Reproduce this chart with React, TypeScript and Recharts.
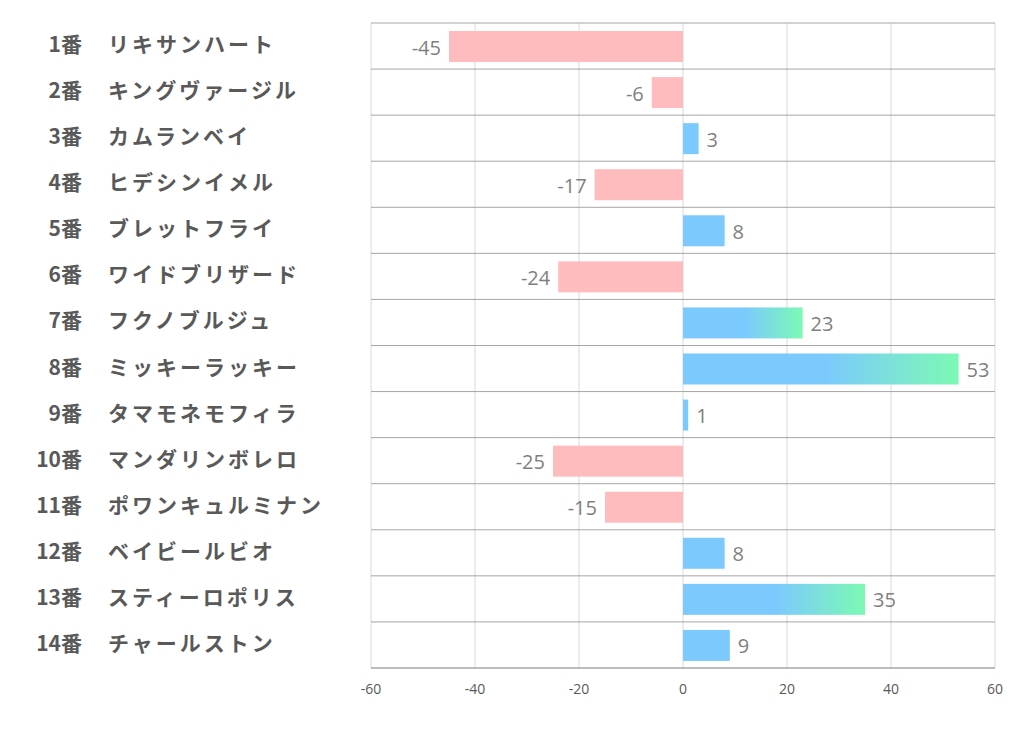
import {
  BarChart,
  Bar,
  XAxis,
  YAxis,
  CartesianGrid,
  LabelList,
} from "recharts";

const numbers = ["1番", "2番", "3番", "4番", "5番", "6番", "7番", "8番", "9番", "10番", "11番", "12番", "13番", "14番"];
const horses = [
  "リキサンハート",
  "キングヴァージル",
  "カムランベイ",
  "ヒデシンイメル",
  "ブレットフライ",
  "ワイドブリザード",
  "フクノブルジュ",
  "ミッキーラッキー",
  "タマモネモフィラ",
  "マンダリンボレロ",
  "ポワンキュルミナン",
  "ベイビールビオ",
  "スティーロポリス",
  "チャールストン",
];
const scores = [-45, -6, 3, -17, 8, -24, 23, 53, 1, -25, -15, 8, 35, 9];
const xTicks = [-60, -40, -20, 0, 20, 40, 60];

const data = scores.map((v, i) => ({ key: numbers[i], horse: horses[i], value: v }));

const BLUE = "#7ccafd";
const GREEN = "#7cf9b4";
const PINK = "#ffbcbf";

// Bar shape: pink for negatives, blue for positives, blue->green fade for strong ones
function BarShape(props: any) {
  const { x, y, width, height, value, index } = props;
  const v = Array.isArray(value) ? value[1] - value[0] : value;
  const left = Math.min(x, x + width);
  const w = Math.abs(width);
  if (v < 0) return <rect x={left} y={y} width={w} height={height} fill={PINK} />;
  if (v < 20) return <rect x={left} y={y} width={w} height={height} fill={BLUE} />;
  const fade = Math.min(w * 0.48, 186);
  const start = 1 - fade / w;
  const id = `fade-${index}`;
  return (
    <g>
      <defs>
        <linearGradient id={id} x1="0" y1="0" x2="1" y2="0">
          <stop offset={start} stopColor={BLUE} />
          <stop offset={1} stopColor={GREEN} />
        </linearGradient>
      </defs>
      <rect x={left} y={y} width={w} height={height} fill={`url(#${id})`} />
    </g>
  );
}

function ValueLabel(props: any) {
  const { x, y, width, height, value } = props;
  const end = x + width;
  const neg = value < 0;
  return (
    <text
      x={neg ? end - 8 : end + 8}
      y={y + height / 2 + 8}
      textAnchor={neg ? "end" : "start"}
      fill="#7f7f7f"
      fontSize={20}
      fontFamily="'Open Sans', sans-serif"
    >
      {value}
    </text>
  );
}

function HorseTick(props: any) {
  const { y, payload } = props;
  const i = numbers.indexOf(payload.value);
  return (
    <g fill="#595959" fontWeight="bold" fontFamily="'Noto Sans CJK JP', sans-serif" fontSize={21}>
      <text x={82} y={y + 6} textAnchor="end">
        {payload.value}
      </text>
      <text x={108} y={y + 6} letterSpacing={3}>
        {horses[i]}
      </text>
    </g>
  );
}

export default function App() {
  const rows = data.length;
  return (
    <div style={{ position: "absolute", left: 0, top: 0, background: "#fff" }}>
      <BarChart
        width={1022}
        height={730}
        data={data}
        layout="vertical"
        margin={{ top: 23, right: 27, bottom: 30, left: 0 }}
        barSize={31}
      >
        <CartesianGrid horizontal={false} stroke="#d9d9d9" />
        <CartesianGrid
          vertical={false}
          stroke="#a6a6a6"
          horizontalCoordinatesGenerator={({ offset }: any) =>
            Array.from({ length: rows + 1 }, (_, k) => offset.top + (k * offset.height) / rows)
          }
        />
        <XAxis
          type="number"
          domain={[-60, 60]}
          ticks={xTicks}
          axisLine={{ stroke: "#a6a6a6" }}
          tickLine={false}
          tick={{ fill: "#595959", fontSize: 14, fontFamily: "'Open Sans', sans-serif" }}
          tickMargin={10}
          height={32}
        />
        <YAxis
          type="category"
          dataKey="key"
          width={371}
          axisLine={false}
          tickLine={false}
          tick={<HorseTick />}
          interval={0}
        />
        <Bar dataKey="value" shape={<BarShape />} isAnimationActive={false}>
          <LabelList dataKey="value" content={<ValueLabel />} />
        </Bar>
      </BarChart>
    </div>
  );
}
